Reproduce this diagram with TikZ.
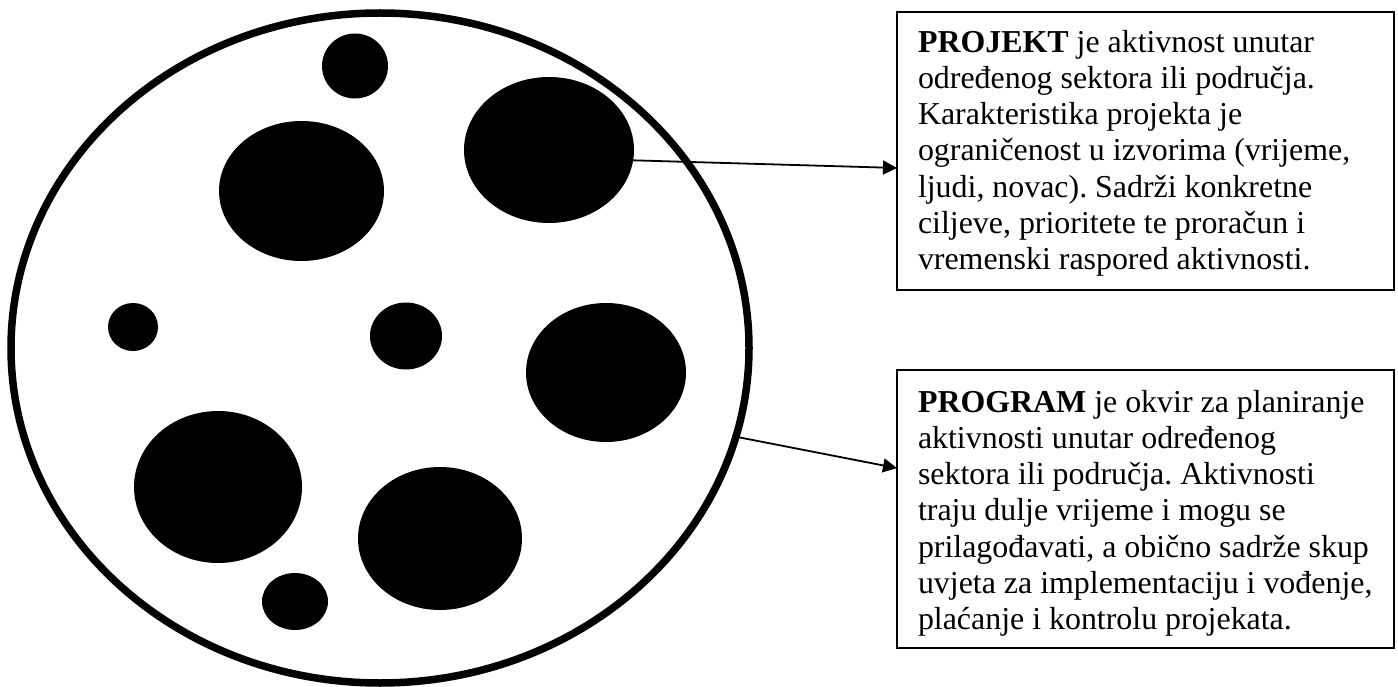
\documentclass[tikz,border=0pt]{standalone}
\usepackage{fontspec}
\setmainfont{Liberation Serif}
\usetikzlibrary{shapes.geometric,arrows.meta,calc}
\tikzset{
  blob/.style={ellipse, fill=black, draw=none, inner sep=0pt, outer sep=0pt},
  bigring/.style={ellipse, draw=black, line width=7.5pt, inner sep=0pt, outer sep=0pt},
  infobox/.style={rectangle, draw=black, line width=1.6pt, inner sep=0pt, outer sep=0pt,
    minimum width=497pt, minimum height=278pt, anchor=north west},
  infotext/.style={inner sep=0pt, outer sep=0pt, anchor=north west, align=left,
    font=\fontsize{31.9}{36.2}\selectfont\frenchspacing},
  arr/.style={line width=1.8pt, -{Triangle[length=14pt, width=14pt]}}
}
\begin{document}
\begin{tikzpicture}[x=1pt,y=-1pt]
\useasboundingbox (0,0) rectangle (1398,687);
\node[bigring, minimum width=738pt, minimum height=670pt] (big) at (380,348) {};
\node[blob, minimum width=66pt, minimum height=65pt] (e1) at (355,66) {};
\node[blob, minimum width=165pt, minimum height=140pt] (e2) at (301.5,191) {};
\node[blob, minimum width=170pt, minimum height=146pt] (e3) at (549,150) {};
\node[blob, minimum width=50pt, minimum height=48pt] (e4) at (133,327) {};
\node[blob, minimum width=72pt, minimum height=67pt] (e5) at (406,336) {};
\node[blob, minimum width=160pt, minimum height=139pt] (e6) at (606,372.5) {};
\node[blob, minimum width=168pt, minimum height=152pt] (e7) at (218,487) {};
\node[blob, minimum width=164pt, minimum height=143pt] (e8) at (440,538.5) {};
\node[blob, minimum width=66pt, minimum height=57pt] (e9) at (295,601.5) {};

\node[infobox] (projekt) at (897,12) {};
\node[infobox] (program) at (897,370) {};

\node[infotext] (tprojekt) at (918,30.2) {\textbf{PROJEKT} je aktivnost unutar\\
određenog sektora ili područja.\\
Karakteristika projekta je\\
ograničenost u izvorima (vrijeme,\\
ljudi, novac). Sadrži konkretne\\
ciljeve, prioritete te proračun i\\
vremenski raspored aktivnosti.};

\node[infotext] (tprogram) at (918,390.2) {\textbf{PROGRAM} je okvir za planiranje\\
aktivnosti unutar određenog\\
sektora ili područja. Aktivnosti\\
traju dulje vrijeme i mogu se\\
prilagođavati, a obično sadrže skup\\
uvjeta za implementaciju i vođenje,\\
plaćanje i kontrolu projekata.};

\draw[arr] (e3.-7) -- ($(projekt.north west)!0.561!(projekt.south west)$);
\draw[arr] (big.-14.5) -- ($(program.north west)!0.353!(program.south west)$);
\end{tikzpicture}
\end{document}
